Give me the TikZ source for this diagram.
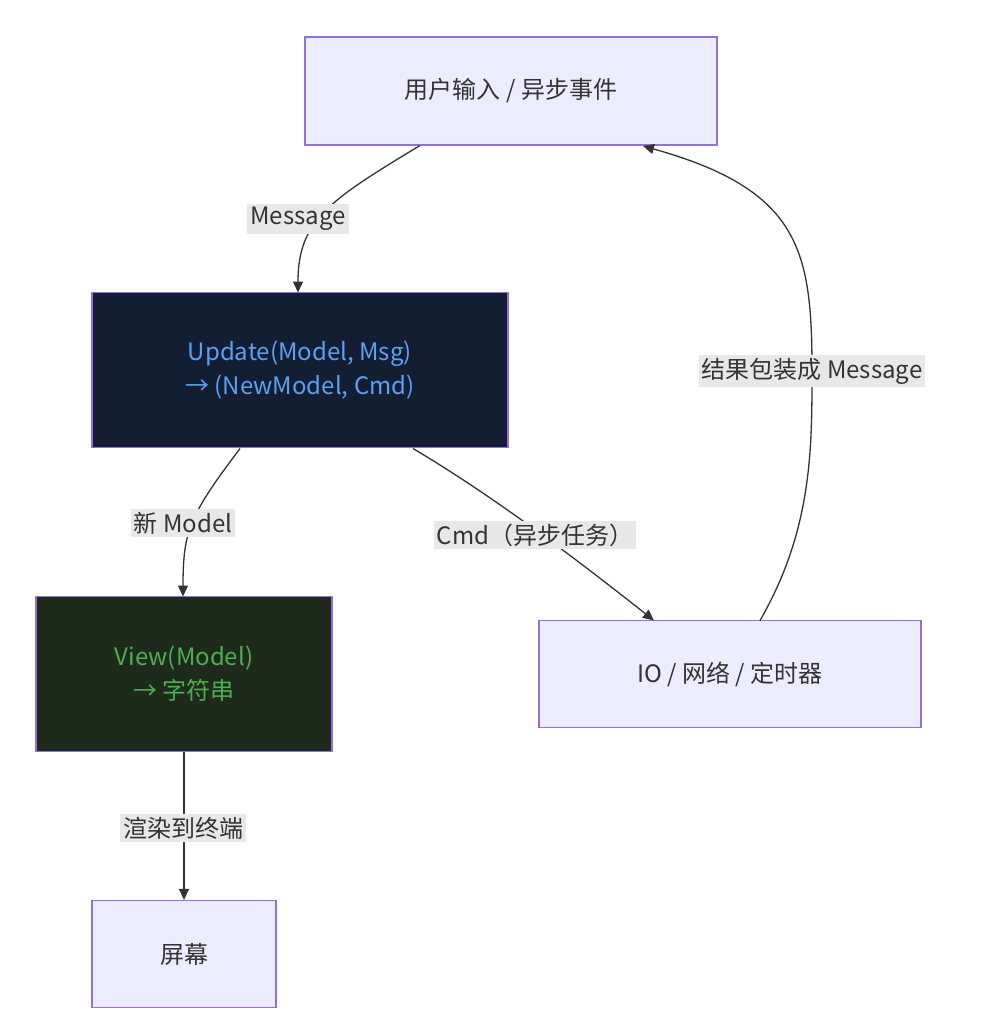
\documentclass[tikz,border=0pt]{standalone}
\usepackage{fontspec}
\setmainfont{Noto Sans CJK SC}
\usetikzlibrary{arrows.meta}
\definecolor{nfill}{HTML}{ECECFF}
\definecolor{nborder}{HTML}{9370DB}
\definecolor{ufill}{HTML}{131E33}
\definecolor{utext}{HTML}{5AA0F5}
\definecolor{vfill}{HTML}{1E2A1C}
\definecolor{vtext}{HTML}{4CAF50}
\definecolor{lbg}{HTML}{E8E8E8}
\definecolor{ln}{HTML}{333333}
\begin{document}
\begin{tikzpicture}[x=1pt,y=-1pt,
  box/.style={draw=nborder,line width=1.3pt,fill=nfill,inner sep=0,font=\fontsize{24}{34}\selectfont,text=ln,align=center},
  lab/.style={fill=lbg,inner sep=3pt,font=\fontsize{24}{30}\selectfont,text=ln},
  edge/.style={draw=ln,line width=1.3pt,-{Triangle[length=11pt,width=10pt]}}]
\useasboundingbox[fill=white] (0,0) rectangle (994,1030);
\node[box,minimum width=412,minimum height=108] (top) at (511,91) {用户输入 / 异步事件};
\node[box,fill=ufill,text=utext,minimum width=416,minimum height=155] (upd) at (300,370) {Update(Model, Msg)\\→ (NewModel, Cmd)};
\node[box,fill=vfill,text=vtext,minimum width=296,minimum height=155] (view) at (184,674) {View(Model)\\→ 字符串};
\node[box,minimum width=382,minimum height=107] (io) at (730,674) {IO / 网络 / 定时器};
\node[box,minimum width=184,minimum height=107] (scr) at (184,954) {屏幕};
\coordinate (a1) at (420,145.5);
\coordinate (a2) at (298,292.5);
\draw[edge] (a1) .. controls (330,200) and (298,220) .. (a2);
\node[lab] at (298,219) {Message};
\coordinate (b1) at (240,448.5);
\coordinate (b2) at (183,596.5);
\draw[edge] (b1) .. controls (190,515) and (183,530) .. (b2);
\node[lab] at (183,523) {新 Model};
\coordinate (c1) at (413,448.5);
\coordinate (c2) at (654,620.5);
\draw[edge] (c1) .. controls (500,500) and (590,570) .. (c2);
\node[lab] at (535,535) {Cmd（异步任务）};
\draw[edge] (view.south) -- (scr.north);
\node[lab] at (183,828) {渲染到终端};
\coordinate (d1) at (760,620.5);
\coordinate (d2) at (643,146);
\draw[edge] (d1) .. controls (812,530) and (812,450) .. (812,371) .. controls (812,250) and (800,190) .. (d2);
\node[lab] at (812,371) {结果包装成 Message};
\end{tikzpicture}
\end{document}
